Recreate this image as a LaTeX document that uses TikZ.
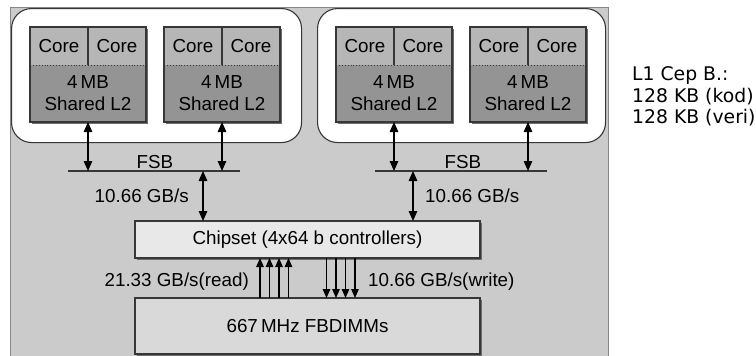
\documentclass[tikz,border=0pt]{standalone}
\usepackage{fontspec}
\setmainfont{Liberation Sans}
\newfontfamily\notafont{DejaVu Sans}
\usepackage{tikz}
\usetikzlibrary{positioning,arrows.meta,shadows}
\definecolor{fondo}{RGB}{203,203,203}
\definecolor{bordefondo}{RGB}{135,135,135}
\definecolor{nucleo}{RGB}{182,182,182}
\definecolor{cachel}{RGB}{148,148,148}
\definecolor{chipgris}{RGB}{232,232,232}
\definecolor{memgris}{RGB}{217,217,217}
\definecolor{trazo}{RGB}{55,55,55}
\definecolor{sombra}{RGB}{110,110,110}

\begin{document}
\begin{tikzpicture}[x=1pt, y=-1pt,
  texto/.style={font=\fontsize{18.8}{22}\selectfont, text=black},
  celda/.style={texto, fill=#1, inner sep=0pt, outer sep=0pt, align=center,
    drop shadow={shadow xshift=1.6pt, shadow yshift=-1.6pt, fill=sombra, opacity=1}},
  marco/.style={draw=trazo, fill=white, line width=1.1pt, rounded corners=20pt,
    inner sep=0pt, anchor=north west},
  borde/.style={draw=trazo, line width=1.2pt},
  doble/.style={{Triangle[length=10pt,width=8.5pt]}-{Triangle[length=10pt,width=8.5pt]},
    line width=1.4pt, draw=black},
  flechita/.style={-{Triangle[length=9pt,width=7.5pt]}, line width=1.3pt, draw=black},
  etiqueta/.style={texto, inner sep=0pt}
]
\useasboundingbox (0,0) rectangle (756,356);
\node[draw=bordefondo, fill=fondo, line width=1pt, inner sep=0pt, anchor=north west,
  minimum width=598pt, minimum height=352pt] (placa) at (10,7) {};
\node[marco, minimum width=290pt, minimum height=134pt] (socketA) at (11,8) {};
\node[marco, minimum width=288pt, minimum height=134pt] (socketB) at (317,8) {};

% bloques de dos nucleos
\node[celda=nucleo, minimum width=58pt, minimum height=38pt, anchor=north west] (n1a) at (30,27) {Core};
\node[celda=nucleo, minimum width=58pt, minimum height=38pt, right=0pt of n1a] (n1b) {Core};
\node[celda=cachel, minimum width=116pt, minimum height=57pt, anchor=north west] (l2a) at (n1a.south west) {4\,MB\\Shared L2};
\node[celda=nucleo, minimum width=58pt, minimum height=38pt, anchor=north west] (n2a) at (164,27) {Core};
\node[celda=nucleo, minimum width=58pt, minimum height=38pt, right=0pt of n2a] (n2b) {Core};
\node[celda=cachel, minimum width=116pt, minimum height=57pt, anchor=north west] (l2b) at (n2a.south west) {4\,MB\\Shared L2};
\node[celda=nucleo, minimum width=58pt, minimum height=38pt, anchor=north west] (n3a) at (336,27) {Core};
\node[celda=nucleo, minimum width=58pt, minimum height=38pt, right=0pt of n3a] (n3b) {Core};
\node[celda=cachel, minimum width=116pt, minimum height=57pt, anchor=north west] (l2c) at (n3a.south west) {4\,MB\\Shared L2};
\node[celda=nucleo, minimum width=58pt, minimum height=38pt, anchor=north west] (n4a) at (470,27) {Core};
\node[celda=nucleo, minimum width=58pt, minimum height=38pt, right=0pt of n4a] (n4b) {Core};
\node[celda=cachel, minimum width=116pt, minimum height=57pt, anchor=north west] (l2d) at (n4a.south west) {4\,MB\\Shared L2};

\draw[borde] (n1a.north west) rectangle (l2a.south east);
\draw[borde] (n1a.north east) -- (n1a.south east);
\draw[borde, line width=0.9pt, dotted] (l2a.north west) -- (l2a.north east);
\draw[borde] (n2a.north west) rectangle (l2b.south east);
\draw[borde] (n2a.north east) -- (n2a.south east);
\draw[borde, line width=0.9pt, dotted] (l2b.north west) -- (l2b.north east);
\draw[borde] (n3a.north west) rectangle (l2c.south east);
\draw[borde] (n3a.north east) -- (n3a.south east);
\draw[borde, line width=0.9pt, dotted] (l2c.north west) -- (l2c.north east);
\draw[borde] (n4a.north west) rectangle (l2d.south east);
\draw[borde] (n4a.north east) -- (n4a.south east);
\draw[borde, line width=0.9pt, dotted] (l2d.north west) -- (l2d.north east);

% buses FSB
\coordinate (fsbAw) at (68,171);
\coordinate (fsbAe) at (240,171);
\coordinate (fsbBw) at (375,171);
\coordinate (fsbBe) at (547,171);
\draw[borde, line width=1.5pt] (fsbAw) -- (fsbAe);
\draw[borde, line width=1.5pt] (fsbBw) -- (fsbBe);
\node[etiqueta, anchor=base] (fsbA) at (155,168) {FSB};
\node[etiqueta, anchor=base] (fsbB) at (463,168) {FSB};
\draw[doble] (l2a.south) -- (l2a.south |- fsbAw);
\draw[doble] (l2b.south) -- (l2b.south |- fsbAw);
\draw[doble] (l2c.south) -- (l2c.south |- fsbBw);
\draw[doble] (l2d.south) -- (l2d.south |- fsbBw);

% chipset y memoria
\node[celda=chipgris, draw=trazo, line width=1.2pt, minimum width=345pt, minimum height=37pt,
  anchor=north west] (chip) at (135,221) {Chipset (4x64 b controllers)};
\node[celda=memgris, draw=trazo, line width=1.2pt, minimum width=345pt, minimum height=56pt,
  anchor=north west] (mem) at (135,298) {667\,MHz FBDIMMs};
\coordinate (bajaA) at (203,171);
\coordinate (bajaB) at (413,171);
\draw[doble] (bajaA) -- (bajaA |- chip.north);
\draw[doble] (bajaB) -- (bajaB |- chip.north);
\node[etiqueta, anchor=base east] (velA) at (189,202) {10.66 GB/s};
\node[etiqueta, anchor=base west] (velB) at (425,202) {10.66 GB/s};

\draw[flechita] ([xshift=-47.5pt]mem.north) -- ([xshift=-47.5pt]chip.south);
\draw[flechita] ([xshift=-38pt]mem.north) -- ([xshift=-38pt]chip.south);
\draw[flechita] ([xshift=-28.5pt]mem.north) -- ([xshift=-28.5pt]chip.south);
\draw[flechita] ([xshift=-19pt]mem.north) -- ([xshift=-19pt]chip.south);
\draw[flechita] ([xshift=19pt]chip.south) -- ([xshift=19pt]mem.north);
\draw[flechita] ([xshift=28.5pt]chip.south) -- ([xshift=28.5pt]mem.north);
\draw[flechita] ([xshift=38pt]chip.south) -- ([xshift=38pt]mem.north);
\draw[flechita] ([xshift=47.5pt]chip.south) -- ([xshift=47.5pt]mem.north);
\node[etiqueta, anchor=base east] (lectura) at (249,286) {21.33 GB/s(read)};
\node[etiqueta, anchor=base west] (escritura) at (368,286) {10.66 GB/s(write)};

% nota L1
\node[inner sep=0pt, anchor=base west, font=\notafont\fontsize{18.8}{22}\selectfont] (notaA) at (632,80) {L1 Cep B.:};
\node[inner sep=0pt, anchor=base west, font=\notafont\fontsize{18.8}{22}\selectfont] (notaB) at (632,102) {128 KB (kod)};
\node[inner sep=0pt, anchor=base west, font=\notafont\fontsize{18.8}{22}\selectfont] (notaC) at (632,123) {128 KB (veri)};
\end{tikzpicture}
\end{document}
